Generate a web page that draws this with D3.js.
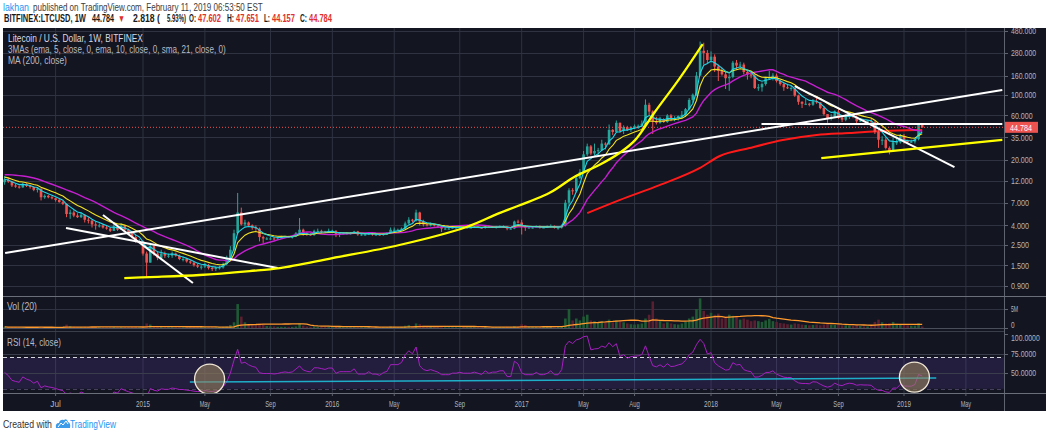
<!DOCTYPE html>
<html>
<head>
<meta charset="utf-8">
<script src="https://cdn.jsdelivr.net/npm/d3@7/dist/d3.min.js"></script>
<style>
  html, body { margin:0; padding:0; background:#ffffff; }
  svg { display:block; }
  text { font-family: "Liberation Sans", Arial, sans-serif; }
</style>
</head>
<body>
<svg id="chart" width="1050" height="435"></svg>
<script>
// ================= DATA =================
// Weekly LTC/USD (Bitfinex) candles, Monday 2014-04-14 .. Monday 2019-02-11
const firstWeek = "2014-04-14";
const lastWeek  = "2019-02-11";
// closes of the 20 weeks before the first visible bar (MA / RSI warm-up, inferred from the MAs at the left edge)
const warmupCloses = [12,12,13,13,14,14,15,15,16,16,17,16,15,15,15,14,13,12,12,11.6];
const firstOpen = 11.6;

const closes = [
 // 2014
 12.4,11.8,10.7, 10.4,10.2,11.1,10.6, 10.3,9.6,9.9,8.0,8.3, 8.0,7.8,7.5,7.1, 6.8,5.3,5.5,5.1,
 4.9,5.2,4.6,4.5,4.1, 4.0,4.0,3.8,3.7, 3.5,3.9,3.6,4.0, 3.6,3.3,3.0,2.7,2.7,
 // 2015
 2.0,1.6,2.4,2.0, 1.8,2.0,1.9,1.9, 2.0,1.9,1.75,1.75,1.65, 1.6,1.5,1.45,1.45, 1.5,1.4,1.38,1.4,
 1.42,1.55,1.75,2.2,3.3, 5.5,4.1,4.3,4.0, 3.8,3.7,3.0,2.9,2.9, 2.9,2.85,2.9,3.0, 3.05,3.0,3.05,3.3,
 3.6,3.3,3.2,3.15,3.5, 3.5,3.45,3.4,3.5,
 // 2016
 3.5,3.2,3.3,3.3, 3.3,3.3,3.45,3.2,3.2, 3.2,3.3,3.2,3.2, 3.15,3.25,3.3,3.6, 3.6,3.6,3.7,4.2,4.6,
 4.5,5.5,4.4,4.1, 4.0,4.1,4.0,3.9, 3.7,3.7,3.7,3.8,3.8, 3.85,3.8,3.8,3.8, 3.85,3.8,3.75,3.9,3.8,
 3.85,3.85,3.9,3.9, 3.7,3.7,4.4,4.3,
 // 2017
 3.9,3.8,3.8,3.8,3.9, 3.8,3.8,3.85,3.95, 3.8,3.8,4.0,7.0, 9.5,9.3,12.8,14.9, 23,28,23.5,25,25.5,
 30,29.5,42,40, 50,41,45,42,45, 46,46.5,49,78, 66,52,50,55, 51,60,55,56,59, 61,70,88,100,
 160,295,280,235,
 // 2018
 255,200,180,165,150, 155,220,205,210, 175,165,160,118, 120,130,150,150,160, 140,130,120,118,
 118,98,84,80, 80,78,85,83,72, 62,55,58,66, 57,54,58,60, 58,52,53,52,52, 51,40,33,33,
 27,25,31,31,36,
 // 2019
 32,31.5,31.5,33.5, 47.602,44.784
];
const highs = [
 13.5,12.9,12.0, 11.1,10.7,11.5,11.3, 10.9,10.5,10.3,9.9,8.6, 8.5,8.3,7.9,7.7, 7.3,6.9,5.9,5.8,
 5.4,5.5,5.3,4.9,4.6, 4.4,4.2,4.1,3.95, 3.8,4.2,4.0,4.2, 4.0,3.7,3.4,3.2,2.85,
 2.75,2.1,2.6,2.5, 2.1,2.2,2.1,2.0, 2.1,2.05,1.95,1.85,1.8, 1.7,1.65,1.55,1.5, 1.6,1.55,1.45,1.45,
 1.48,1.6,1.9,2.4,3.6, 8.9,6.2,4.6,4.4, 4.1,4.0,3.8,3.1,3.0, 3.0,3.0,2.95,3.1, 3.1,3.1,3.1,3.4,
 4.8,3.7,3.4,3.3,3.6, 3.7,3.6,3.5,3.7,
 3.6,3.55,3.4,3.4, 3.4,3.4,3.5,3.5,3.3, 3.3,3.35,3.3,3.3, 3.3,3.3,3.4,3.8, 3.8,3.7,3.8,4.4,4.9,
 4.7,5.9,5.6,4.6, 4.2,4.3,4.1,4.1, 4.0,3.8,3.8,3.9,3.9, 4.0,3.9,3.9,3.9, 3.9,3.9,3.85,4.0,4.0,
 3.9,3.95,4.0,4.0, 3.95,3.8,4.5,4.6,
 4.6,4.0,3.9,3.9,4.0, 4.0,3.9,4.0,4.1, 4.0,3.9,4.1,7.5, 10,10,13.5,16, 25,30,29,30,27,
 33,31,48,43, 53,50.5,47,46.5,46, 48,48,53,89, 82,68,58,58, 56,62,62,59,60, 67,72,92,103,
 175,370,360,300,
 290,270,210,195,175, 165,230,235,225, 220,180,175,165, 130,135,155,180,170, 168,145,135,130,
 125,118,100,85, 90,82,90,92,83, 75,62,62,68, 70,58,62,63, 62,60,55,54,53, 56,52,42,36,
 35,28,35,36,38,
 38,33,33,34, 48,47.651
];
const lows = [
 10.9,11.4,10.3, 10.1,9.9,10.1,10.3, 9.9,9.3,9.0,7.4,7.7, 7.8,7.6,7.2,7.0, 6.6,4.9,4.7,4.9,
 4.8,4.8,4.3,4.2,3.8, 3.6,3.8,3.7,3.6, 3.4,3.5,3.5,3.6, 3.5,3.2,2.9,2.6,2.6,
 1.9,1.1,1.6,1.9, 1.7,1.7,1.8,1.8, 1.8,1.85,1.7,1.65,1.6, 1.55,1.45,1.4,1.35, 1.4,1.35,1.3,1.3,
 1.35,1.38,1.5,1.7,2.1, 3.2,4.0,3.9,3.9, 3.6,3.5,2.7,2.6,2.8, 2.8,2.8,2.8,2.9, 2.95,2.95,2.9,3.0,
 3.2,3.1,3.1,3.1,3.1, 3.4,3.3,3.3,3.4,
 3.4,3.0,3.0,3.2, 3.2,3.2,3.3,3.1,3.1, 3.1,3.15,3.1,3.1, 3.1,3.1,3.2,3.3, 3.5,3.5,3.5,3.6,4.1,
 4.3,4.4,4.0,3.9, 3.9,3.9,3.9,3.8, 3.4,3.6,3.6,3.7,3.7, 3.7,3.75,3.7,3.75, 3.75,3.75,3.7,3.7,3.75,
 3.75,3.7,3.8,3.8, 3.55,3.6,3.65,4.2,
 3.2,3.5,3.7,3.7,3.8, 3.7,3.75,3.75,3.8, 3.7,3.6,3.7,3.9, 6.5,8.5,9.0,12.5, 14.5,22,22.5,22.5,22.5,
 25,26,29,37, 40,39,38,41,40, 43,43,45,48, 60,38,48,49, 50,50,52,52,53, 55,58,68,82,
 97,160,210,218,
 220,175,140,160,115, 110,150,185,190, 165,145,150,115, 110,108,125,145,142, 135,125,110,115,
 110,95,78,72, 78,75,76,80,70, 60,50,53,57, 55,51,52,55, 56,49,51,51,50, 50,38,27,29,
 26,23,24.5,29,30,
 30,30,30.5,30, 32.5,44.157
];
// weekly volume, millions of LTC
const volumes = [
 0.3,0.2,0.2, 0.2,0.15,0.2,0.15, 0.15,0.2,0.2,0.3,0.15, 0.15,0.15,0.15,0.2, 0.2,0.9,0.5,0.3,
 0.25,0.25,0.3,0.25,0.3, 0.3,0.25,0.2,0.2, 0.2,0.3,0.2,0.25, 0.25,0.25,0.3,0.35,0.2,
 0.4,1.2,0.9,0.4, 0.3,0.3,0.2,0.2, 0.2,0.2,0.2,0.2,0.2, 0.2,0.2,0.2,0.2, 0.2,0.2,0.2,0.2,
 0.2,0.3,0.4,0.8,1.5, 6.3,3.0,1.5,1.0, 0.8,0.7,1.2,0.9,0.5, 0.4,0.4,0.3,0.3, 0.3,0.3,0.3,0.4,
 1.2,0.6,0.4,0.3,0.4, 0.3,0.3,0.3,0.3,
 0.3,0.4,0.3,0.2, 0.2,0.2,0.2,0.2,0.2, 0.2,0.2,0.2,0.2, 0.2,0.2,0.2,0.4, 0.3,0.2,0.3,0.6,0.8,
 0.5,1.2,1.0,0.5, 0.3,0.3,0.2,0.2, 0.4,0.2,0.2,0.2,0.2, 0.2,0.2,0.2,0.2, 0.2,0.2,0.2,0.2,0.2,
 0.2,0.2,0.2,0.2, 0.3,0.2,0.5,0.4,
 1.0,0.8,0.3,0.3,0.3, 0.3,0.3,0.3,0.3, 0.3,0.4,0.4,2.5, 5.0,2.0,2.5,2.0, 3.0,3.5,2.0,1.8,1.5,
 1.8,1.5,2.2,1.5, 2.0,1.8,1.5,1.2,1.0, 0.9,1.0,1.2,2.5, 3.5,7.0,2.5,1.8, 1.2,1.5,1.2,1.0,0.9,
 1.2,1.6,2.5,3.0, 5.0,7.8,4.5,3.5,
 4.0,3.5,3.8,2.5,3.0, 3.5,3.2,3.0,2.2, 2.5,2.2,1.8,2.0, 1.8,1.6,2.0,2.4,1.8, 1.6,1.3,1.2,1.0,
 0.9,1.2,1.1,0.9, 0.8,0.7,0.8,0.9,0.7, 0.9,1.1,0.8,0.8, 0.9,0.7,0.7,0.6, 0.6,0.8,0.5,0.4,0.4,
 0.5,1.6,2.2,1.5, 1.2,1.3,1.6,1.1,0.9,
 0.8,0.7,0.6,0.6, 1.3,0.4
];
// MA(200) (needs history before the visible range)
const ma200Dates  = ["2017-05-08","2017-07-09","2017-09-24","2017-12-10","2018-01-18","2018-03-16","2018-05-19","2018-07-23","2018-09-24","2018-11-27","2019-01-31","2019-02-11"];
const ma200Values = [5.42,7.47,10.8,16.4,22.1,26.9,32.7,37.1,38.9,40.9,41.9,42.0];

// drawings made on the chart (date, price)
const whiteLines = [
  [["2014-04-15",2.03],["2019-07-15",112.2]],
  [["2014-08-10",3.75],["2015-09-21",1.40]],
  [["2014-10-20",5.17],["2015-04-11",0.968]],
  [["2018-06-11",123.8],["2019-04-14",16.8]],
  [["2018-04-08",48.6],["2019-07-15",48.6]]
];
const yellowLine = [["2018-08-01",21.0],["2019-07-15",32.8]];
const yellowCurve = [["2014-11-30",1.094],["2015-01-18",1.12],["2015-04-24",1.18],["2015-07-29",1.30],
  ["2015-09-25",1.40],["2016-01-04",1.79],["2016-05-12",2.47],["2016-09-18",3.85],["2016-11-20",5.42],
  ["2017-02-24",8.88],["2017-04-13",13.2],["2017-05-31",17.7],["2017-07-09",23.8],["2017-08-08",32.7],
  ["2017-09-15",65.3],["2017-11-02",150.7],["2017-12-16",348]];
const rsiTrend = [["2015-04-05",38.5],["2019-03-10",43.6]];
const rsiCircles = [["2015-05-13",42.3],["2019-01-27",44.9]];

// axes
const priceTicks = [480,280,160,100,60,35,20,12,7,4,2.5,1.5,0.9];
const volTicks = [[5,"5M"],[0,"0"]];
const rsiTicks = [[100,"100.0000"],[75,"75.0000"],[50,"50.0000"]];
const timeTicks = [["2014-07-21","Jul"],["2015-01-05","2015"],["2015-05-04","May"],["2015-09-07","Sep"],
  ["2016-01-04","2016"],["2016-05-02","May"],["2016-09-05","Sep"],["2017-01-02","2017"],["2017-05-01","May"],
  ["2017-08-07","Aug"],["2018-01-01","2018"],["2018-05-07","May"],["2018-09-03","Sep"],["2019-01-07","2019"],["2019-05-06","May"]];
const lastPrice = 44.784;

// header pieces: [text, x, width, colour]
const headerLine1 = [["lakhan",3,26,"#2196f3"],["published on TradingView.com, February 11, 2019 06:53:50 EST",33,230,"#3c3c3c"]];
const headerLine2 = [["BITFINEX:LTCUSD, 1W",4,82,"#1a1a1a"],["44.784",92,22,"#1a1a1a"],["▼",118,7,"#e0302c"],
  ["2.818 (",133,27,"#1a1a1a"],["5.93%)",167,19,"#1a1a1a"],["O:",189,7,"#1a1a1a"],["47.602",198,23,"#e0302c"],
  ["H:",227,7,"#1a1a1a"],["47.651",236,23,"#e0302c"],["L:",264,6,"#1a1a1a"],["44.157",272,23,"#e0302c"],
  ["C:",300,7,"#1a1a1a"],["44.784",309,23,"#e0302c"]];

// ================= LAYOUT =================
const P = {left:3, right:1004, outer:1046, top:28, priceBot:296, volBot:331, rsiBot:393, bottom:411};
const C = {bg:"#131520", grid:"#2f3341", sep:"#5f636f", text:"#b2b5be", up:"#26a69a", down:"#ef5350"};

const svg = d3.select("#chart");
const parse = d3.utcParse("%Y-%m-%d");
const weeks = d3.utcMonday.range(parse(firstWeek), d3.utcDay.offset(parse(lastWeek), 1));
const opens = [firstOpen].concat(closes.slice(0, -1));
const bars = weeks.map((d,i)=>({date:d, o:opens[i], h:highs[i], l:lows[i], c:closes[i], v:volumes[i]}));

const x = d3.scaleUtc().domain([parse("2015-01-05"), parse("2019-01-07")]).range([143, 904]);
const y = d3.scaleLog().domain([0.9, 480]).range([286, 31]);
const yVol = d3.scaleLinear().domain([0, 5]).range([328, 309]);
const yRsi = d3.scaleLinear().domain([0, 100]).range([412.2, 334]);

// indicators
const all = warmupCloses.concat(closes);
const nW = warmupCloses.length;
function ema(a,n){const k=2/(n+1);let p;return a.map((v,i)=>(p=i===0?v:v*k+p*(1-k)));}
function sma(a,n){return a.map((v,i)=>d3.mean(a.slice(Math.max(0,i-n+1),i+1)));}
function rsi(a,n){let ag=0,al=0;const out=[null];
  for(let i=1;i<a.length;i++){const ch=a[i]-a[i-1],g=Math.max(ch,0),l=Math.max(-ch,0);
    if(i<=n){ag+=g/n;al+=l/n;}else{ag=(ag*(n-1)+g)/n;al=(al*(n-1)+l)/n;}
    out.push(i<n?null:(al===0?100:100-100/(1+ag/al)));}
  return out;}
const ema5 = ema(all,5).slice(nW), ema10 = ema(all,10).slice(nW), sma21 = sma(all,21).slice(nW);
const rsi14 = rsi(all,14).slice(nW);
const volMA = sma(volumes,20);

// text helper: squeeze a text horizontally to a given width (real transform, so boxes stay true)
function label(xx,yy,txt,len,col,size,weight,anchor){
  const t = svg.append("text").attr("x",0).attr("y",0).attr("font-size",size||10).attr("fill",col)
    .attr("font-weight",weight||"normal").text(txt);
  const nat = t.node().getComputedTextLength() || len;
  const s = Math.min(1, len/nat);
  const x0 = anchor==="middle" ? xx - len/2 : xx;
  t.attr("transform",`translate(${x0},${yy}) scale(${s},1)`);
  return t;
}

// ================= DRAW =================
svg.append("rect").attr("width",1050).attr("height",435).attr("fill","#fff");
svg.append("rect").attr("x",P.left).attr("y",P.top).attr("width",P.outer-P.left).attr("height",P.bottom-P.top).attr("fill",C.bg);

const defs = svg.append("defs");
function clip(id,y0,y1){defs.append("clipPath").attr("id",id).append("rect").attr("x",P.left).attr("y",y0).attr("width",P.right-P.left).attr("height",y1-y0);}
clip("cPrice",P.top,P.priceBot); clip("cVol",P.priceBot,P.volBot); clip("cRsi",P.volBot,P.rsiBot);

// vertical grid
svg.append("g").selectAll("line").data(timeTicks).join("line")
  .attr("x1",d=>x(parse(d[0]))).attr("x2",d=>x(parse(d[0])))
  .attr("y1",P.top).attr("y2",P.rsiBot).attr("stroke",C.grid).attr("stroke-width",1);
// horizontal grids
svg.append("g").selectAll("line").data(priceTicks).join("line")
  .attr("x1",P.left).attr("x2",P.right).attr("y1",d=>Math.round(y(d))+0.5).attr("y2",d=>Math.round(y(d))+0.5)
  .attr("stroke",C.grid);
svg.append("g").selectAll("line").data(volTicks).join("line")
  .attr("x1",P.left).attr("x2",P.right).attr("y1",d=>Math.round(yVol(d[0]))+0.5).attr("y2",d=>Math.round(yVol(d[0]))+0.5)
  .attr("stroke",d=>d[0]===0?"#4a4e5a":C.grid);

// RSI band
svg.append("rect").attr("x",P.left).attr("width",P.right-P.left).attr("y",yRsi(70)).attr("height",yRsi(30)-yRsi(70))
  .attr("fill","rgba(110,70,200,0.18)");
svg.append("g").selectAll("line").data([75,50]).join("line")
  .attr("x1",P.left).attr("x2",P.right).attr("y1",d=>Math.round(yRsi(d))+0.5).attr("y2",d=>Math.round(yRsi(d))+0.5)
  .attr("stroke","#3a3e4c");
svg.append("line").attr("x1",P.left).attr("x2",P.right).attr("y1",Math.round(yRsi(70))+0.5).attr("y2",Math.round(yRsi(70))+0.5)
  .attr("stroke","#d8d8e0").attr("stroke-dasharray","4,3");
svg.append("line").attr("x1",P.left).attr("x2",P.right).attr("y1",Math.round(yRsi(30))+0.5).attr("y2",Math.round(yRsi(30))+0.5)
  .attr("stroke","#6a5d8a").attr("stroke-dasharray","4,3").attr("opacity",0.6);

// ---- price panel ----
const gP = svg.append("g").attr("clip-path","url(#cPrice)");
const bw = 2.6;
const lineMA = (arr)=>d3.line().x((d,i)=>x(weeks[i])).y(d=>y(d))(arr);
// MA 200
gP.append("path").attr("d", d3.line().curve(d3.curveMonotoneX).x((d,i)=>x(parse(ma200Dates[i]))).y(d=>y(d))(ma200Values))
  .attr("fill","none").attr("stroke","#ff1a1a").attr("stroke-width",2);
// candles
const cg = gP.append("g").selectAll("g").data(bars).join("g");
cg.append("line").attr("x1",d=>x(d.date)).attr("x2",d=>x(d.date)).attr("y1",d=>y(d.h)).attr("y2",d=>y(d.l))
  .attr("stroke",d=>d.c>=d.o?C.up:C.down).attr("stroke-width",1);
cg.append("rect").attr("x",d=>x(d.date)-bw/2).attr("width",bw)
  .attr("y",d=>y(Math.max(d.o,d.c))).attr("height",d=>Math.max(1,Math.abs(y(d.o)-y(d.c))))
  .attr("fill",d=>d.c>=d.o?C.up:C.down);
// 3 MAs
gP.append("path").attr("d",lineMA(sma21)).attr("fill","none").attr("stroke","#c51fd0").attr("stroke-width",1.4);
gP.append("path").attr("d",lineMA(ema10)).attr("fill","none").attr("stroke","#f2e324").attr("stroke-width",1.1);
gP.append("path").attr("d",lineMA(ema5)).attr("fill","none").attr("stroke","#1fd5e6").attr("stroke-width",1.1);
// last price line
gP.append("line").attr("x1",P.left).attr("x2",P.right).attr("y1",y(lastPrice)).attr("y2",y(lastPrice))
  .attr("stroke","#ef5350").attr("stroke-dasharray","1,2").attr("stroke-width",1);
// drawings
const ptLine = d3.line().x(d=>x(parse(d[0]))).y(d=>y(d[1]));
whiteLines.forEach(l=>gP.append("path").attr("d",ptLine(l)).attr("fill","none").attr("stroke","#ffffff").attr("stroke-width",2));
gP.append("path").attr("d",ptLine(yellowLine)).attr("fill","none").attr("stroke","#ffff00").attr("stroke-width",2.3);
gP.append("path").attr("d",ptLine.curve(d3.curveCatmullRom)(yellowCurve)).attr("fill","none").attr("stroke","#ffff00").attr("stroke-width",2.3);

// ---- volume panel ----
const gV = svg.append("g").attr("clip-path","url(#cVol)");
gV.selectAll("rect").data(bars).join("rect")
  .attr("x",d=>x(d.date)-bw/2).attr("width",bw).attr("y",d=>yVol(d.v)).attr("height",d=>yVol(0)-yVol(d.v))
  .attr("fill",d=>d.c>=d.o?"#1f5a35":"#5a1f30");
gV.append("path").attr("d",d3.line().x((d,i)=>x(weeks[i])).y(d=>yVol(d))(volMA))
  .attr("fill","none").attr("stroke","#ff9a2e").attr("stroke-width",1.3);

// ---- RSI panel ----
const gR = svg.append("g").attr("clip-path","url(#cRsi)");
gR.append("path").attr("d",d3.line().defined(d=>d!=null).x((d,i)=>x(weeks[i])).y(d=>yRsi(d))(rsi14))
  .attr("fill","none").attr("stroke","#a51fc0").attr("stroke-width",1);
gR.append("path").attr("d",d3.line().x(d=>x(parse(d[0]))).y(d=>yRsi(d[1]))(rsiTrend))
  .attr("fill","none").attr("stroke","#1ec8e0").attr("stroke-width",1.5).attr("opacity",0.85);
gR.selectAll("circle").data(rsiCircles).join("circle")
  .attr("cx",d=>x(parse(d[0]))).attr("cy",d=>yRsi(d[1])).attr("r",15)
  .attr("fill","rgba(150,128,95,0.6)").attr("stroke","#efe6d6").attr("stroke-width",1.3);

// ---- separators ----
svg.append("line").attr("x1",P.right+0.5).attr("x2",P.right+0.5).attr("y1",P.top).attr("y2",P.bottom).attr("stroke",C.sep);
[P.priceBot, P.rsiBot].forEach(v=>svg.append("line").attr("x1",P.left).attr("x2",P.outer).attr("y1",v+0.5).attr("y2",v+0.5).attr("stroke","#6a6e79"));
svg.append("line").attr("x1",P.left).attr("x2",P.right).attr("y1",P.volBot+0.5).attr("y2",P.volBot+0.5).attr("stroke","#3a3e4a");

// ---- axis labels ----
function axisLabel(yy,txt,col,dy){
  svg.append("line").attr("x1",P.right).attr("x2",P.right+4).attr("y1",Math.round(yy)+0.5).attr("y2",Math.round(yy)+0.5).attr("stroke",C.sep);
  label(P.right+7, yy+3.3+(dy||0), txt, txt.length*3.6, col||C.text, 9);
}
priceTicks.forEach(t=>axisLabel(y(t), d3.format(".3f")(t)));
// "0" of the volume pane and "100" of the RSI pane sit very close: nudge them apart
volTicks.forEach(t=>axisLabel(yVol(t[0]), t[1], null, t[0]===0?-3:0));
rsiTicks.forEach(t=>axisLabel(yRsi(t[0]), t[1], null, t[0]===100?3.5:0));
// last price tag
const ly = y(lastPrice);
svg.append("rect").attr("x",P.right+1).attr("y",ly-5.5).attr("width",33).attr("height",11).attr("fill","#ef5350");
label(P.right+6, ly+3.3, d3.format(".3f")(lastPrice), 22, "#fff", 9);

// time axis
timeTicks.forEach(t=>{
  const xx = x(parse(t[0]));
  svg.append("line").attr("x1",xx).attr("x2",xx).attr("y1",P.rsiBot).attr("y2",P.rsiBot+3).attr("stroke",C.sep);
  label(xx, 407, t[1], t[1].length*3.5, C.text, 9, "normal", "middle");
});

// ---- legends in panes ----
label(8,42,"Litecoin / U.S. Dollar, 1W, BITFINEX",135,"#d6d8e0");
label(8,53,"3MAs (ema, 5, close, 0, ema, 10, close, 0, sma, 21, close, 0)",218,"#b8bac3");
label(8,64,"MA (200, close)",59,"#b8bac3");
label(7,310,"Vol (20)",30,"#b8bac3");
label(7,346,"RSI (14, close)",54,"#b8bac3");

// ---- header ----
headerLine1.forEach(s=>label(s[1],11,s[0],s[2],s[3],10));
headerLine2.forEach(s=>label(s[1],22,s[0],s[2],s[3],10,"bold"));

// ---- footer ----
label(3,428,"Created with",49,"#333");
const logo = svg.append("g").attr("transform","translate(55,418)");
logo.append("path").attr("d","M1,10 Q0,5 4,5 Q5,1 9,2 Q12,0 13,4 Q16,5 15,10 Z").attr("fill","#3d9be9");
logo.append("path").attr("d","M3,9 L6,5 L8,7 L11,3 L13,6").attr("fill","none").attr("stroke","#fff").attr("stroke-width",1);
label(70,428,"TradingView",46,"#2196f3");
</script>
</body>
</html>
